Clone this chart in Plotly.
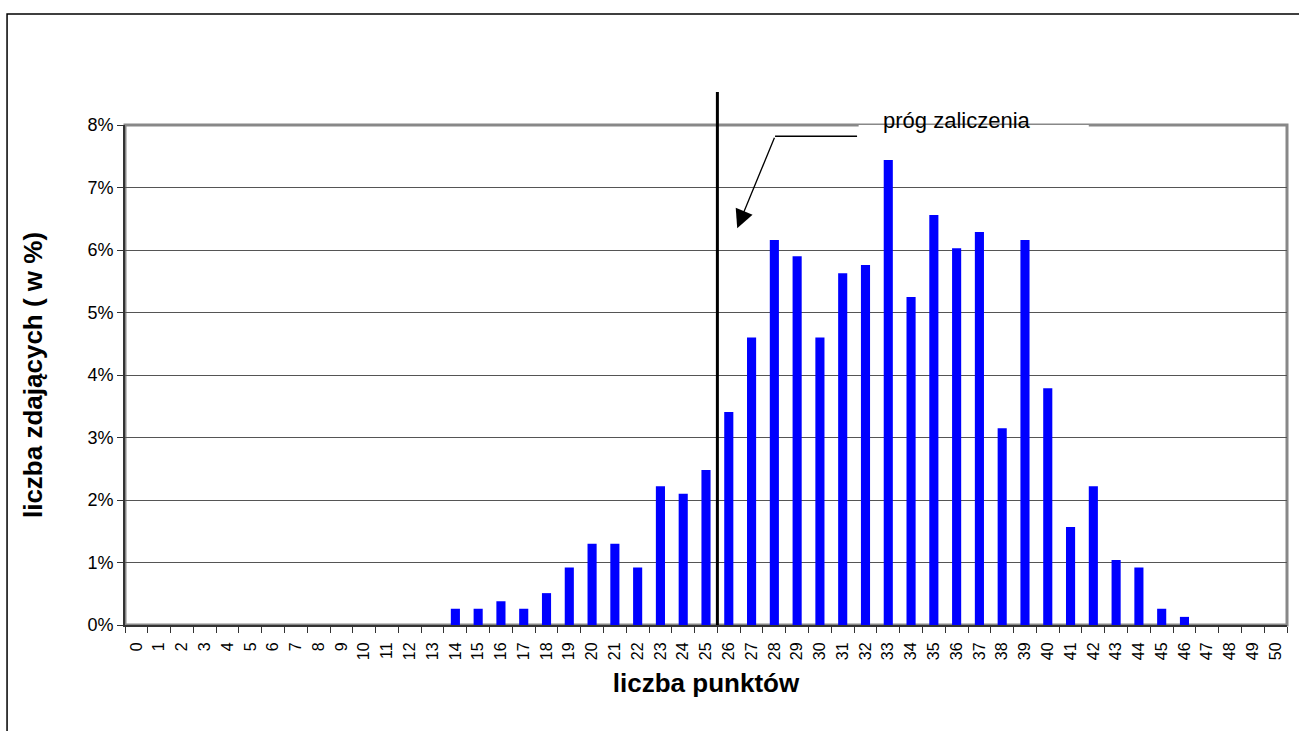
import plotly.graph_objects as go

points = [str(i) for i in range(51)]
percent = [0, 0, 0, 0, 0, 0, 0, 0, 0, 0,
           0, 0, 0, 0, 0.26, 0.26, 0.38, 0.26, 0.51, 0.92,
           1.30, 1.30, 0.92, 2.22, 2.10, 2.48, 3.41, 4.60, 6.16, 5.90,
           4.60, 5.63, 5.76, 7.44, 5.25, 6.56, 6.03, 6.29, 3.15, 6.16,
           3.79, 1.57, 2.22, 1.04, 0.92, 0.26, 0.13, 0, 0, 0, 0]
y_ticks = [0, 1, 2, 3, 4, 5, 6, 7, 8]
y_tick_labels = [f"{v}%" for v in y_ticks]
threshold_x = 25.5
threshold_label = "próg zaliczenia"

fig = go.Figure()
fig.add_trace(go.Bar(x=points, y=percent, marker=dict(color="#0000FF", line=dict(width=0)),
                     width=0.4, hoverinfo="x+y"))

font = "Arial, Liberation Sans, sans-serif"

fig.update_layout(
    width=1299, height=731,
    margin=dict(l=125, r=12, t=125, b=106),
    paper_bgcolor="white", plot_bgcolor="white",
    showlegend=False,
    font=dict(family=font, color="black"),
    xaxis=dict(type="category", range=[-0.5, 50.5], tickson="boundaries",
               ticks="outside", ticklen=6, tickcolor="#333", tickwidth=1,
               tickangle=-90, tickfont=dict(size=16, family=font), ticklabelstandoff=9,
               showline=True, linecolor="#333", linewidth=2,
               showgrid=False, zeroline=False,
               title=dict(text="<b>liczba punktów</b>", font=dict(size=26, family=font), standoff=15)),
    yaxis=dict(range=[0, 8], tickvals=y_ticks, ticktext=y_tick_labels,
               ticks="outside", ticklen=6, tickcolor="#333", tickwidth=1,
               tickfont=dict(size=18, family=font),
               showline=True, linecolor="#333", linewidth=2,
               showgrid=True, gridcolor="#555", gridwidth=1, zeroline=False,
               title=dict(text="<b>liczba zdających ( w %)</b>", font=dict(size=26, family=font), standoff=37)),
)

# plot-area border (gray, Excel style) and outer chart border
fig.add_shape(type="rect", xref="paper", yref="paper", x0=0, x1=1, y0=0, y1=1,
              line=dict(color="#888", width=3), layer="below")
fig.add_shape(type="rect", xref="paper", yref="paper", x0=-0.1015, x1=1.05, y0=-0.3, y1=1.222,
              line=dict(color="black", width=1.5), layer="below")

# threshold line
fig.add_shape(type="line", xref="x", yref="paper", x0=threshold_x, x1=threshold_x, y0=0, y1=1.066,
              line=dict(color="black", width=3))

# white gap in the top gridline behind the label
fig.add_shape(type="rect", xref="x", yref="y", x0=31.7, x1=41.8, y0=7.96, y1=8.04,
              fillcolor="white", line=dict(width=0), layer="above")
fig.add_annotation(x=36.0, y=8, xref="x", yref="y", yshift=5, text=threshold_label, showarrow=False,
                   font=dict(size=22, family=font, color="black"))

# leader line + arrow
fig.add_shape(type="line", xref="x", yref="y", x0=31.63, x1=28.03, y0=7.82, y1=7.82,
              line=dict(color="black", width=1.5))
fig.add_annotation(x=26.37, y=6.35, ax=28.03, ay=7.82, xref="x", yref="y", axref="x", ayref="y",
                   text="", showarrow=True, arrowhead=2, arrowsize=2.8, arrowwidth=1.3,
                   arrowcolor="black")

fig.write_html("out.html")
